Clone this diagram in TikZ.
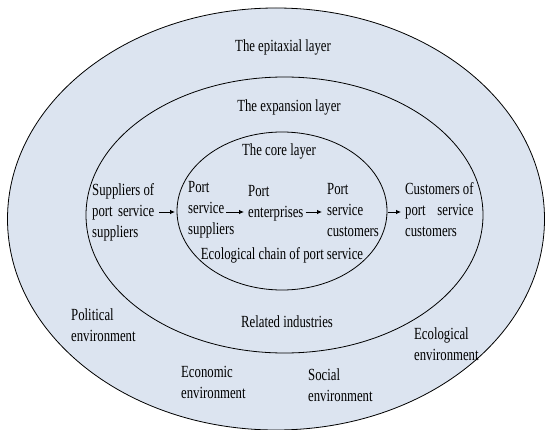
\documentclass[tikz,border=0pt]{standalone}
\usepackage{fontspec}
\setmainfont{Liberation Serif}[FakeStretch=0.75]
\usepackage{calc}
\usetikzlibrary{arrows.meta}
\definecolor{layerfill}{RGB}{220,228,240}
\newcommand\jline[2]{\makebox[\widthof{#1}][s]{#2}}
\begin{document}
\begin{tikzpicture}[x=1pt,y=-1pt,
  layer/.style={draw=black, line width=0.8pt, fill=layerfill},
  lbl/.style={font=\fontsize{17pt}{21pt}\selectfont, inner sep=0pt},
  multi/.style={lbl, align=left, anchor=base west},
  single/.style={lbl, anchor=base},
  arr/.style={draw=black, line width=0.8pt, -{Latex[length=5pt,width=4.5pt]}}]
\useasboundingbox (0,0) rectangle (545,430);
\fill[white] (0,0) rectangle (545,430);
% layers
\draw[layer] (276,219) ellipse [x radius=268.5pt, y radius=211pt];
\draw[layer] (284.5,215) ellipse [x radius=198.5pt, y radius=138pt];
\draw[layer] (282,211) ellipse [x radius=105pt, y radius=79pt];
% layer titles
\node[single] (epi) at (283,51.5) {The epitaxial layer};
\node[single] (exp) at (289,111.5) {The expansion layer};
\node[single] (core) at (279,155.5) {The core layer};
% chain (multi-line nodes: base = last line)
\node[multi] (sup) at (92,237) {Suppliers of\\\jline{Suppliers of}{port service}\\suppliers};
\node[multi] (psup) at (188,234.5) {Port\\service\\suppliers};
\node[multi] (ent) at (248,217.5) {Port\\enterprises};
\node[multi] (pcus) at (327,236.5) {Port\\service\\customers};
\node[multi] (cus) at (405,236.5) {Customers of\\\jline{Customers of}{port service}\\customers};
\node[single] (chain) at (282,259.5) {Ecological chain of port service};
\node[single] (rel) at (287,327.5) {Related industries};
% environments
\node[multi] (pol) at (71,341.5) {Political\\environment};
\node[multi] (ecol) at (414,360.5) {Ecological\\environment};
\node[multi] (econ) at (181,398.5) {Economic\\environment};
\node[multi] (soc) at (308,401.5) {Social\\environment};
% arrows
\coordinate (row) at (0,212);
\draw[arr, shorten <=5pt, shorten >=13pt] (sup.east |- row) -- (psup.west |- row);
\draw[arr, shorten <=38pt, shorten >=4pt] (psup.west |- row) -- (ent.west |- row);
\draw[arr, shorten <=2pt, shorten >=5pt] (ent.east |- row) -- (pcus.west |- row);
\draw[arr, shorten <=8.5pt, shorten >=4pt] (pcus.east |- row) -- (cus.west |- row);
\end{tikzpicture}
\end{document}
